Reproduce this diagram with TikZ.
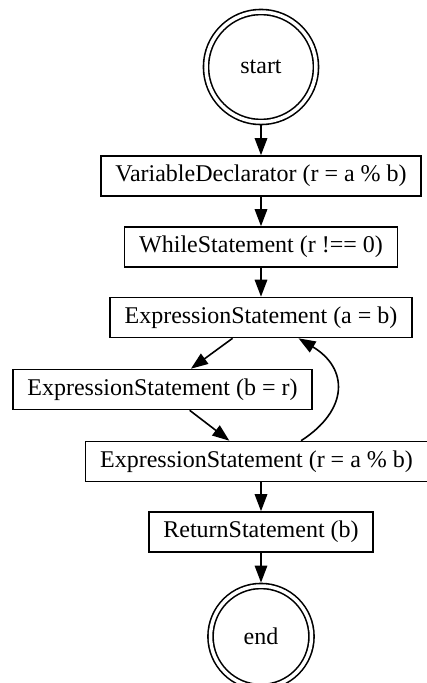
\documentclass[tikz,border=0pt]{standalone}
\usepackage{fontspec}
\setmainfont{Liberation Serif}
\usetikzlibrary{arrows.meta}
\begin{document}
\begin{tikzpicture}[x=1pt,y=-1pt,line width=1.6pt,
    font=\fontsize{24}{28}\selectfont,
    stmt/.style={draw,rectangle,minimum height=40pt,inner xsep=14.5pt,inner ysep=0pt},
    term/.style={draw,circle,double,double distance=3.5pt,inner sep=0pt,outer sep=3.4pt},
    >={Triangle[length=17pt,width=12.5pt]}]
  \useasboundingbox (0,0) rectangle (426,683);
  \draw
    (261,67) node[term,minimum size=110pt] (start){start}
    (261,176) node[stmt] (vd){VariableDeclarator (r = a \% b)}
    (261,247) node[stmt] (ws){WhileStatement (r !== 0)}
    (261,317.5) node[stmt] (ea){ExpressionStatement (a = b)}
    (162.5,389.5) node[stmt] (eb){ExpressionStatement (b = r)}
    (256.5,461.5) node[stmt] (er){ExpressionStatement (r = a \% b)}
    (261,532) node[stmt] (rs){ReturnStatement (b)}
    (261,636.5) node[term,minimum size=101pt] (end){end};
  \begin{scope}[->]
    \draw (start) to (vd);
    \draw (vd) to (ws);
    \draw (ws) to (ea);
    \draw (ea) to (eb);
    \draw (eb) to (er);
    \draw (er.25) .. controls +(48,-31) and +(50,30) .. (ea.-29);
    \draw (er.south -| rs.north) to (rs.north);
    \draw (rs) to (end);
  \end{scope}
\end{tikzpicture}
\end{document}
